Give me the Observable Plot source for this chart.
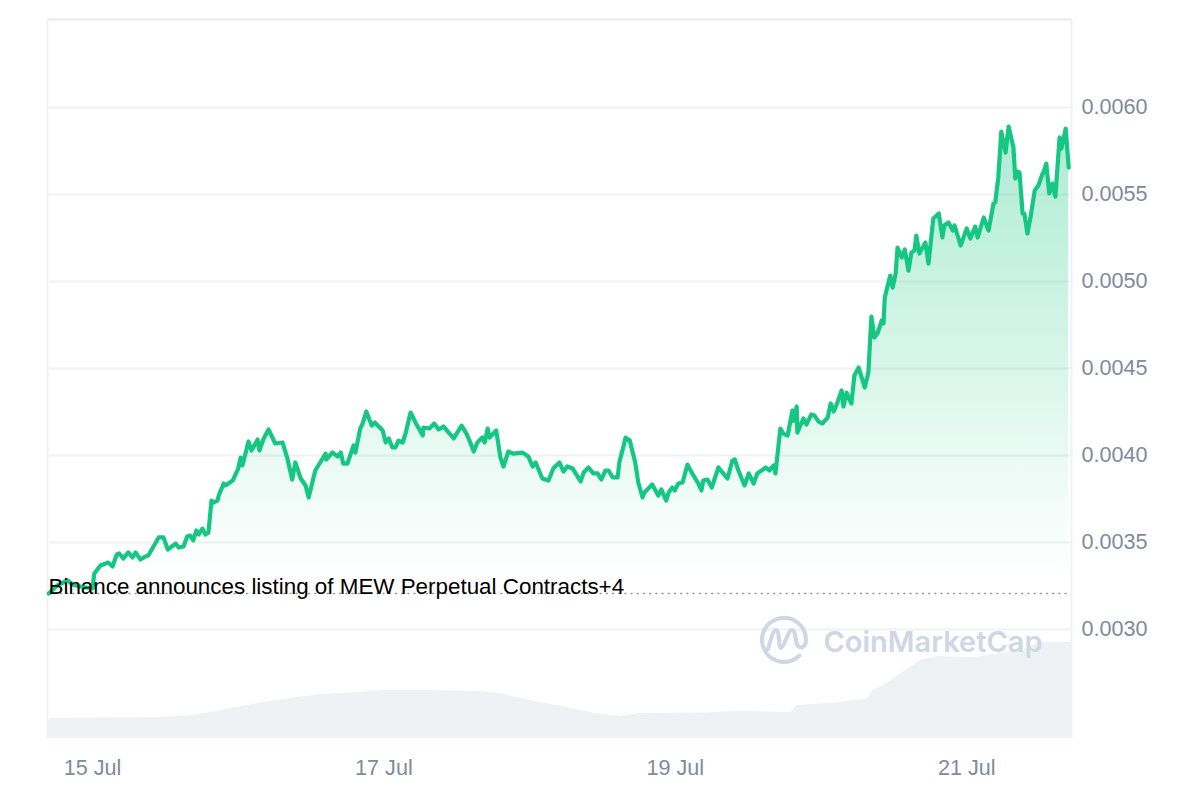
<!DOCTYPE html>
<html><head><meta charset="utf-8">
<style>html,body{margin:0;padding:0;background:#fff;overflow:hidden}#chart{position:relative;width:1200px;height:800px}svg{display:block}</style>
<script src="https://cdn.jsdelivr.net/npm/d3@7"></script>
<script src="https://cdn.jsdelivr.net/npm/@observablehq/plot@0.6"></script>
</head><body><div id="chart"></div>
<script>
// hours since 15 Jul 00:00
const priceHours = [-7.2,-5.8,-4.1,-3.3,-2.0,0,0.3,1.3,2.6,3.3,4.0,4.4,5.1,5.9,6.6,7.1,7.9,8.7,9.2,10.9,11.7,12.4,13.7,14.2,15.0,15.6,16.1,16.6,17.1,17.5,18.1,18.6,19.1,19.6,19.9,20.6,20.8,21.6,21.9,23.1,24.0,24.4,24.7,25.7,26.2,27.2,27.5,28.2,29.0,30.1,31.3,32.1,32.9,33.4,34.3,35.1,35.6,36.7,38.4,38.5,39.5,40.4,40.9,41.3,42.0,43.0,43.3,44.1,44.5,45.1,46.0,46.5,47.8,48.3,48.8,49.4,49.9,50.4,51.1,51.6,52.4,53.2,54.4,54.5,55.5,56.3,57.0,57.8,59.5,60.8,61.6,62.1,62.8,63.4,64.2,64.6,65.1,65.4,66.5,67.2,67.7,68.5,69.3,70.8,71.8,72.5,73.0,74.1,75.1,75.9,76.9,77.6,78.2,79.1,80.4,80.9,81.7,82.5,83.2,83.8,84.5,85.0,85.7,86.5,86.8,87.5,87.8,88.5,89.4,89.9,90.6,90.9,92.2,93.2,93.7,94.5,94.9,95.5,95.9,96.5,97.2,98.0,98.7,99.7,100.3,100.6,101.3,102.0,103.1,103.8,104.6,105.4,105.8,106.4,107.4,108.1,108.9,109.5,110.9,111.5,112.2,112.5,113.3,113.8,114.5,115.3,115.5,116.0,116.1,117.1,117.6,118.4,118.9,119.6,120.2,121.1,121.6,122.1,122.7,123.4,123.7,124.2,125.0,125.5,126.2,127.2,127.8,128.3,128.8,129.3,130.0,130.3,130.5,131.4,131.8,132.3,132.6,133.3,133.8,134.4,134.9,135.4,135.7,136.2,137.2,137.7,138.5,139.4,140.0,140.3,141.0,141.7,142.0,143.0,144.0,144.6,145.4,145.8,146.8,147.6,148.4,148.7,149.2,149.7,150.4,150.9,151.7,152.0,152.4,152.7,153.2,153.5,154.0,154.5,155.2,155.8,156.5,156.6,157.1,157.6,158.1,158.6,159.3,159.6,160.3,160.8];
// price in millionths of a dollar
const priceMicro = [3207,3253,3282,3259,3247,3236,3322,3368,3385,3362,3431,3437,3408,3443,3414,3443,3402,3420,3425,3529,3529,3460,3494,3471,3477,3535,3540,3512,3569,3546,3580,3546,3558,3741,3730,3741,3770,3839,3828,3856,3925,3988,3943,4081,4029,4092,4029,4098,4150,4069,4075,3983,3862,3960,3868,3828,3759,3914,4011,3977,4017,3994,4017,3954,3954,4058,4017,4155,4184,4253,4172,4190,4144,4075,4098,4046,4046,4086,4075,4132,4247,4190,4115,4161,4155,4184,4150,4167,4098,4172,4126,4086,4023,4075,4103,4075,4155,4103,4144,3988,3937,4023,4011,4017,3994,3937,3960,3868,3856,3925,3960,3908,3937,3925,3851,3902,3931,3897,3897,3862,3914,3914,3874,3874,3965,4058,4103,4086,3960,3845,3759,3787,3833,3770,3805,3741,3787,3816,3799,3839,3845,3948,3902,3845,3799,3856,3862,3816,3931,3902,3868,3971,3977,3914,3828,3897,3839,3897,3931,3914,3943,3897,4155,4126,4115,4259,4201,4282,4132,4213,4178,4236,4230,4195,4184,4218,4299,4253,4305,4374,4282,4362,4299,4460,4506,4391,4477,4799,4678,4701,4776,4759,4908,5034,4965,5046,5195,5138,5184,5063,5167,5178,5264,5161,5224,5103,5362,5391,5253,5322,5339,5293,5322,5207,5305,5247,5316,5253,5368,5293,5448,5454,5598,5862,5741,5891,5770,5592,5632,5626,5391,5391,5276,5368,5523,5552,5621,5621,5678,5506,5563,5488,5828,5764,5879,5655];
const volumeHours = [-7.41,11.2,16.6,19.4,22.7,28.2,33.8,37.6,43.7,47.9,55.7,63.9,67.2,72.1,77.1,83.7,87.0,90.3,100.1,106.7,115.0,116.1,123.2,127.8,128.5,130.3,136.4,139.2,145.1,150.7,153.3,155.9,161.26];
const volumeRelative = [20,21,23,26,30,36,41,44,46,48,48,47,45,38,32,24,22,25,25.5,27,26,33,36,40,48,53,78,82,81,86,88,96,96];
const priceTicks = [0.003,0.0035,0.004,0.0045,0.005,0.0055,0.006];
const timeTicks = [0,48,96,144];
const timeLabels = ["15 Jul","17 Jul","19 Jul","21 Jul"];
const baselinePrice = 0.003207;
const xDomain = [-7.41,161.26];
const yDomain = [0.0023736,0.006506];
const volumeToPrice = 5.747e-6;
const annotations = [{hour:-7.25,price:0.003247,label:"Binance announces listing of MEW Perpetual Contracts+4"}];
const watermark = [{hour:120.4,price:0.002925,label:"CoinMarketCap"}];

const prices = priceHours.map((h,i)=>({h,p:priceMicro[i]/1e6}));
const volumes = volumeHours.map((h,i)=>({h,v:volumeRelative[i]}));
const GRID="#eff2f5", GREEN="#16c784", MUTED="#808a9d";

const defs = () => {
  const d = d3.create("svg:defs");
  const g = d.append("linearGradient").attr("id","priceFill").attr("x1",0).attr("x2",0).attr("y1",0).attr("y2",1);
  g.append("stop").attr("offset","0").attr("stop-color",GREEN).attr("stop-opacity",0.35);
  g.append("stop").attr("offset","0.97").attr("stop-color",GREEN).attr("stop-opacity",0);
  return d.node();
};

const chart = Plot.plot({
  width:1200,height:800,
  marginLeft:47,marginRight:129,marginTop:19,marginBottom:62,
  style:{fontFamily:"'Liberation Sans',Arial,sans-serif",background:"#fff"},
  x:{domain:xDomain,label:null},
  y:{domain:yDomain,label:null},
  marks:[
    defs,
    Plot.areaY(volumes,{x:"h",y1:yDomain[0],y2:d=>yDomain[0]+d.v*volumeToPrice,fill:GRID}),
    Plot.ruleY(priceTicks,{stroke:GRID,strokeWidth:2}),
    Plot.ruleY([yDomain[1]],{stroke:"#e6e9ee",strokeWidth:2}),
    Plot.ruleX(xDomain,{stroke:GRID,strokeWidth:2}),
    Plot.areaY(prices,{x:"h",y1:baselinePrice,y2:"p",fill:"url(#priceFill)"}),
    Plot.ruleY([baselinePrice],{x1:priceHours[0],x2:priceHours[priceHours.length-1],stroke:"#8f98a8",strokeWidth:1.4,strokeDasharray:"1 5.2",strokeLinecap:"round"}),
    Plot.text(watermark,{x:"hour",y:"price",text:"label",textAnchor:"start",fontFamily:"Inter",fontWeight:600,fontSize:29,fill:"#cfd6e4"}),
    Plot.line(prices,{x:"h",y:"p",stroke:GREEN,strokeWidth:4.2,strokeLinejoin:"round",strokeLinecap:"round"}),
    Plot.text(annotations,{x:"hour",y:"price",text:"label",textAnchor:"start",fontSize:22.4,fill:"#000"}),
    Plot.axisY(priceTicks,{anchor:"right",tickSize:0,tickPadding:10,fontSize:21.6,fill:MUTED,tickFormat:d=>d.toFixed(4),label:null}),
    Plot.axisX(timeTicks,{anchor:"bottom",tickSize:0,tickPadding:21,fontSize:21.6,fill:MUTED,tickFormat:d=>timeLabels[timeTicks.indexOf(d)],label:null})
  ]
});
document.getElementById("chart").append(chart);

// CoinMarketCap logo mark (watermark glyph)
const logo=d3.select("#chart").append("svg").attr("width",54).attr("height",54).attr("viewBox","-27 -27 54 54")
  .style("position","absolute").style("left","756.5px").style("top","613px").attr("fill","none").attr("stroke","#cfd6e4").attr("stroke-width",4).attr("stroke-linecap","round").attr("stroke-linejoin","round");
logo.append("path").attr("d","M15.5 15.5 A22 22 0 1 1 22 0 C22 7 17 9 14 6 C11 3 12 -10 8 -10 C4 -10 0 8 -3 8 C-6 8 -4 -10 -8 -10 C-11 -10 -14 2 -16 9");
</script>
</body></html>
